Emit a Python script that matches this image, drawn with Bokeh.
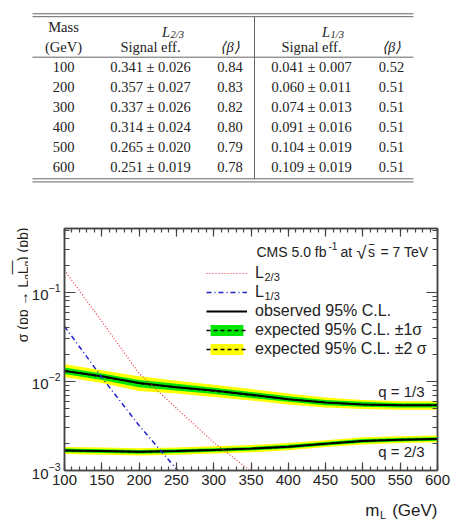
import math
from bokeh.plotting import figure
from bokeh.models import (Range1d, LinearAxis, LogAxis, Label, Legend, LegendItem,
                          FixedTicker, CustomJSTickFormatter)
from bokeh.layouts import column, row
from bokeh.embed import file_html
from bokeh.resources import INLINE
from bokeh.core.properties import value

# ---------------- table data ----------------
tbl_mass = [100, 200, 300, 400, 500, 600]
tbl_eff23 = [0.341, 0.357, 0.337, 0.314, 0.265, 0.251]
tbl_err23 = [0.026, 0.027, 0.026, 0.024, 0.020, 0.019]
tbl_beta23 = [0.84, 0.83, 0.82, 0.80, 0.79, 0.78]
tbl_eff13 = [0.041, 0.060, 0.074, 0.091, 0.104, 0.109]
tbl_err13 = [0.007, 0.011, 0.013, 0.016, 0.019, 0.019]
tbl_beta13 = [0.52, 0.51, 0.51, 0.51, 0.51, 0.51]

# ---------------- plot data ----------------
mass = [100, 150, 200, 250, 300, 350, 400, 450, 500, 550, 600]
obs_q13 = [0.0131, 0.0114, 0.0096, 0.0086, 0.0079, 0.0071, 0.0063, 0.0058, 0.0055, 0.0054, 0.0054]
exp_q13 = [0.0132, 0.0113, 0.0095, 0.0086, 0.0078, 0.0070, 0.0063, 0.0058, 0.0055, 0.0054, 0.0054]
exp_q13_1s_lo = [0.0121, 0.0104, 0.0086, 0.0079, 0.0072, 0.0065, 0.0059, 0.0054, 0.0052, 0.0051, 0.0051]
exp_q13_1s_hi = [0.0143, 0.0123, 0.0104, 0.0094, 0.0085, 0.0076, 0.0068, 0.0062, 0.0059, 0.0057, 0.0057]
exp_q13_2s_lo = [0.0112, 0.0096, 0.0078, 0.0073, 0.0067, 0.0061, 0.0055, 0.0051, 0.0049, 0.0048, 0.0048]
exp_q13_2s_hi = [0.0156, 0.0133, 0.0114, 0.0102, 0.0092, 0.0082, 0.0073, 0.0066, 0.0062, 0.0060, 0.0060]

obs_q23 = [0.00168, 0.00165, 0.00162, 0.00165, 0.00170, 0.00176, 0.00185, 0.00200, 0.00215, 0.00222, 0.00226]
exp_q23 = [0.00168, 0.00165, 0.00162, 0.00165, 0.00170, 0.00176, 0.00185, 0.00200, 0.00215, 0.00222, 0.00226]
exp_q23_1s_lo = [0.00160, 0.00157, 0.00154, 0.00157, 0.00162, 0.00168, 0.00176, 0.00191, 0.00205, 0.00212, 0.00216]
exp_q23_1s_hi = [0.00176, 0.00173, 0.00170, 0.00173, 0.00178, 0.00184, 0.00194, 0.00209, 0.00225, 0.00232, 0.00236]
exp_q23_2s_lo = [0.00153, 0.00150, 0.00147, 0.00150, 0.00155, 0.00160, 0.00169, 0.00183, 0.00196, 0.00203, 0.00207]
exp_q23_2s_hi = [0.00184, 0.00181, 0.00178, 0.00181, 0.00187, 0.00193, 0.00203, 0.00219, 0.00236, 0.00243, 0.00247]

mass_th23 = [100, 150, 200, 250, 300, 350, 400]
xsec_L23 = [0.177, 0.047, 0.0123, 0.0050, 0.00207, 0.00098, 0.00048]
mass_th13 = [100, 150, 200, 250, 300]
xsec_L13 = [0.0415, 0.0111, 0.0032, 0.00104, 0.00037]

x_ticks = [100, 150, 200, 250, 300, 350, 400, 450, 500, 550, 600]

SANS = "Liberation Sans"
SERIF = "Liberation Serif"
INK = "#222222"
AXC = "#444444"


def blank_fig(w, h, flip=True):
    yr = Range1d(h, 0) if flip else Range1d(0, h)
    f = figure(width=w, height=h, x_range=Range1d(0, w), y_range=yr,
               x_axis_type=None, y_axis_type=None, output_backend="svg",
               toolbar_location=None, min_border=0, frame_align=False)
    f.grid.visible = False
    f.outline_line_color = None
    return f


# ================= table figure (page y 0..190) =================
TH = 190
t = blank_fig(466, TH)

t.segment(x0=[32, 32, 32, 32, 32], y0=[13.3, 16.2, 56.7, 178.3, 181.4],
          x1=[413, 413, 413, 413, 413], y1=[13.3, 16.2, 56.7, 178.3, 181.4],
          line_color="#666666", line_width=1)
t.segment(x0=[254], y0=[16.2], x1=[254], y1=[178.3], line_color="#666666", line_width=1)

col_x = [63, 150, 229.5, 311, 391]
tfs = "14.5px"
t.text(x=[63, 63, 150, 311], y=[26.5, 46, 46, 46],
       text=["Mass", "(GeV)", "Signal eff.", "Signal eff."],
       text_font=value(SERIF), text_font_size=tfs, text_align="center",
       text_baseline="middle", text_color=INK)
t.text(x=[229.5, 391], y=[46, 46], text=["\u27e8\u03b2\u27e9", "\u27e8\u03b2\u27e9"],
       text_font=value(SERIF), text_font_size=tfs, text_font_style="italic",
       text_align="center", text_baseline="middle", text_color=INK)
t.text(x=[169.5, 329.5], y=[31.5, 31.5], text=["L", "L"], text_font=value(SERIF),
       text_font_size=tfs, text_font_style="italic", text_align="right",
       text_baseline="alphabetic", text_color=INK)
t.text(x=[170, 330], y=[34, 34], text=["2/3", "1/3"], text_font=value(SERIF),
       text_font_size="10.5px", text_font_style="italic", text_align="left",
       text_baseline="alphabetic", text_color=INK)

rows_y = [66.7 + 20 * i for i in range(len(tbl_mass))]
cols = [
    [str(mv) for mv in tbl_mass],
    [f"{e:.3f} \u00b1 {d:.3f}" for e, d in zip(tbl_eff23, tbl_err23)],
    [f"{b:.2f}" for b in tbl_beta23],
    [f"{e:.3f} \u00b1 {d:.3f}" for e, d in zip(tbl_eff13, tbl_err13)],
    [f"{b:.2f}" for b in tbl_beta13],
]
for cx, texts in zip(col_x, cols):
    t.text(x=[cx] * len(texts), y=rows_y, text=texts, text_font=value(SERIF),
           text_font_size=tfs, text_align="center", text_baseline="middle",
           text_color=INK)

# ================= y-title strip (page x 0..28, page y 190..500) =================
YW, PH = 28, 310
yf = blank_fig(YW, PH, flip=False)   # y measured upward from page y = 500


def up(page_y):
    return 500 - page_y


HALF_PI = math.pi / 2
ytop = 227
ybase = 22.5
f_main, f_sub = 14, 10
w_end = 2.389 * f_main
w_sub = 0.556 * f_sub
w_L = 0.556 * f_main
y1 = ytop + w_end
y2 = y1 + w_sub
y3 = y2 + w_L
y4 = y3 + w_sub
yf.text(x=[ybase, ybase, ybase], y=[up(ytop), up(y2), up(y4)],
        text=[") (pb)", "L", "\u03c3 (pp \u2192 L"], angle=HALF_PI,
        text_font=value(SANS), text_font_size=f"{f_main}px", text_align="right",
        text_baseline="alphabetic", text_color=INK)
yf.text(x=[ybase + 4, ybase + 4], y=[up(y1), up(y3)], text=["q", "q"], angle=HALF_PI,
        text_font=value(SANS), text_font_size=f"{f_sub}px", text_align="right",
        text_baseline="alphabetic", text_color=INK)
yf.text(x=[ybase - 12.5], y=[up((y1 + y3) / 2)], text=["\u2014"], angle=HALF_PI,
        text_font=value(SANS), text_font_size="14px", text_align="center",
        text_baseline="middle", text_color=INK)

# ================= plot figure (page x 28..466, y 190..500) =================
FL, FB = 61, 470  # frame left / frame bottom in page pixels
p = figure(width=466 - YW, height=PH, x_range=Range1d(100, 600), y_range=Range1d(1e-3, 0.52),
           y_axis_type="log", output_backend="svg", toolbar_location=None,
           min_border_left=FL - YW, min_border_right=29, min_border_top=38,
           min_border_bottom=30, frame_align=False)
p.grid.visible = False
p.outline_line_color = AXC
p.outline_line_width = 1.5

blank = CustomJSTickFormatter(code="return ''")
p.add_layout(LinearAxis(formatter=blank), "above")
p.add_layout(LogAxis(formatter=blank), "right")

xt = FixedTicker(ticks=x_ticks, minor_ticks=list(range(100, 601, 10)))
yt = FixedTicker(ticks=[1e-3, 1e-2, 1e-1],
                 minor_ticks=[k * 10.0 ** e for e in (-3, -2, -1) for k in range(2, 10)])
for ax in p.xaxis:
    ax.ticker = xt
for ax in p.yaxis:
    ax.ticker = yt
for ax in p.axis:
    ax.axis_line_color = AXC
    ax.axis_line_width = 1.5
    ax.major_tick_line_color = AXC
    ax.minor_tick_line_color = AXC
    ax.major_tick_line_width = 1.2
    ax.minor_tick_line_width = 1.2
    ax.major_tick_out = 0
    ax.minor_tick_out = 0
    ax.major_label_text_font = SANS
    ax.major_label_text_font_size = "15px"
    ax.major_label_text_color = INK
for ax in p.xaxis:
    ax.major_tick_in = 8
    ax.minor_tick_in = 4
    ax.major_label_standoff = 4
for ax in p.yaxis:
    ax.major_tick_in = 11
    ax.minor_tick_in = 5
    ax.major_label_standoff = 4

r_y13 = p.varea(x=mass, y1=exp_q13_2s_lo, y2=exp_q13_2s_hi, fill_color="#ffff00")
r_g13 = p.varea(x=mass, y1=exp_q13_1s_lo, y2=exp_q13_1s_hi, fill_color="#00e600")
r_y23 = p.varea(x=mass, y1=exp_q23_2s_lo, y2=exp_q23_2s_hi, fill_color="#ffff00")
r_g23 = p.varea(x=mass, y1=exp_q23_1s_lo, y2=exp_q23_1s_hi, fill_color="#00e600")
r_e13 = p.line(mass, exp_q13, line_color="black", line_width=1.5, line_dash="4 3")
r_e23 = p.line(mass, exp_q23, line_color="black", line_width=1.5, line_dash="4 3")
r_o13 = p.line(mass, obs_q13, line_color="black", line_width=2)
r_o23 = p.line(mass, obs_q23, line_color="black", line_width=2)
r_t23 = p.line(mass_th23, xsec_L23, line_color="#ee3344", line_width=1.2, line_dash="1 2")
r_t13 = p.line(mass_th13, xsec_L13, line_color="#2222cc", line_width=1.5, line_dash="5 3 1 3")

legend = Legend(items=[
    LegendItem(label=value("L"), renderers=[r_t23]),
    LegendItem(label=value("L"), renderers=[r_t13]),
    LegendItem(label=value("observed 95% C.L."), renderers=[r_o13]),
    LegendItem(label=value("expected 95% C.L. \u00b11\u03c3"), renderers=[r_g13, r_e13]),
    LegendItem(label=value("expected 95% C.L. \u00b12 \u03c3"), renderers=[r_y13, r_e13]),
], location=(142, 112), orientation="vertical")
legend.padding = 0
legend.margin = 0
legend.border_line_color = None
legend.background_fill_alpha = 0
legend.glyph_width = 41
legend.glyph_height = 14
legend.label_height = 14
legend.label_standoff = 8
legend.spacing = 1
legend.label_text_font = SANS
legend.label_text_font_size = "16px"
legend.label_text_color = INK
p.add_layout(legend)


def lab(px, py, text, size, align="left", baseline="alphabetic"):
    return Label(x=px - FL, y=FB - py, x_units="screen", y_units="screen", text=text,
                 text_font=SANS, text_font_size=f"{size}px", text_align=align,
                 text_baseline=baseline, text_color=INK)


for lb in [
    lab(261, 276, "2/3", 11),
    lab(261, 295, "1/3", 11),
    lab(253, 251, "CMS 5.0 fb", 14),
    lab(325, 245, "-1", 10),
    lab(337, 251, "at", 14),
    lab(353, 252, "\u221a", 18),
    lab(364.5, 251, "s", 14),
    lab(368, 250, "\u203e", 14, align="center"),
    lab(377, 251, "= 7 TeV", 14),
    lab(421, 391, "q = 1/3", 15, align="right"),
    lab(421, 451, "q = 2/3", 15, align="right"),
]:
    p.add_layout(lb)

# ================= x-title strip (page y 500..521) =================
XH = 21
xf = blank_fig(466, XH)
xf.text(x=[379, 437], y=[10, 10], text=["m", "(GeV)"], text_font=value(SANS),
        text_font_size="17px", text_align="right", text_baseline="alphabetic",
        text_color=INK)
xf.text(x=[379.5], y=[14], text=["L"], text_font=value(SANS), text_font_size="11px",
        text_align="left", text_baseline="alphabetic", text_color=INK)

layout = column(t, row(yf, p, spacing=0), xf, spacing=0)
open("out.html", "w").write(file_html(layout, INLINE))
